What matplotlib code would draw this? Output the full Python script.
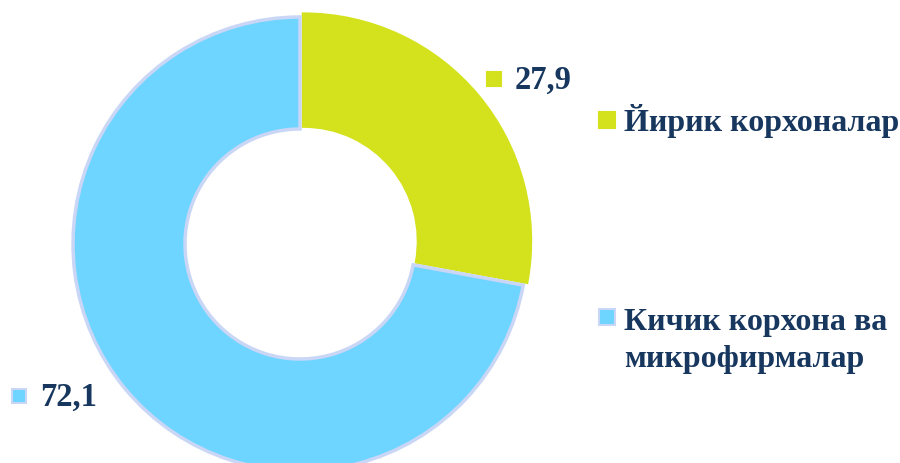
import matplotlib.pyplot as plt

# data
categories = ["Йирик корхоналар", "Кичик корхона ва\nмикрофирмалар"]
values = [27.9, 72.1]
value_labels = ["27,9", "72,1"]
colors = ["#D3E21C", "#6DD5FF"]
edge_colors = ["#D3E21C", "#C9D6F6"]
text_color = "#17375E"

plt.rcParams['font.family'] = ['Liberation Serif', 'DejaVu Serif']

fig = plt.figure(figsize=(9, 4.63), dpi=100)
ax = fig.add_axes([0, 0, 1, 1])

wedges, _ = ax.pie(values, colors=colors, startangle=90, counterclock=False,
                   center=(300, 219), radius=227, explode=[4.5, 0],
                   wedgeprops=dict(width=112, linewidth=2.5))
for w, ec in zip(wedges, edge_colors):
    w.set_edgecolor(ec)

ax.set_xlim(0, 900)
ax.set_ylim(0, 463)
ax.set_aspect('equal')
ax.axis('off')

# data labels with square markers
lab_pos = [(494, 384), (19, 67)]
for (x, y), txt, c, ec in zip(lab_pos, value_labels, colors, edge_colors):
    ax.plot(x, y, marker='s', ms=10.5, color=c, mec=ec, mew=1.5, clip_on=False)
    ax.text(x + 21, y - 1, txt, fontsize=23.5, fontweight='bold', color=text_color,
            va='center', ha='left')

# legend
leg_pos = [(607, 343), (607, 146)]
for (x, y), txt, c, ec in zip(leg_pos, categories, colors, edge_colors):
    ax.plot(x, y, marker='s', ms=11, color=c, mec=ec, mew=1.5, clip_on=False)
    if '\n' in txt:
        ax.text(x + 17, y + 9, txt, fontsize=23, fontweight='bold', color=text_color,
                va='top', ha='left', linespacing=1.35)
    else:
        ax.text(x + 17, y - 1, txt, fontsize=23, fontweight='bold', color=text_color,
                va='center', ha='left')

fig.savefig("out.png", dpi=100)
